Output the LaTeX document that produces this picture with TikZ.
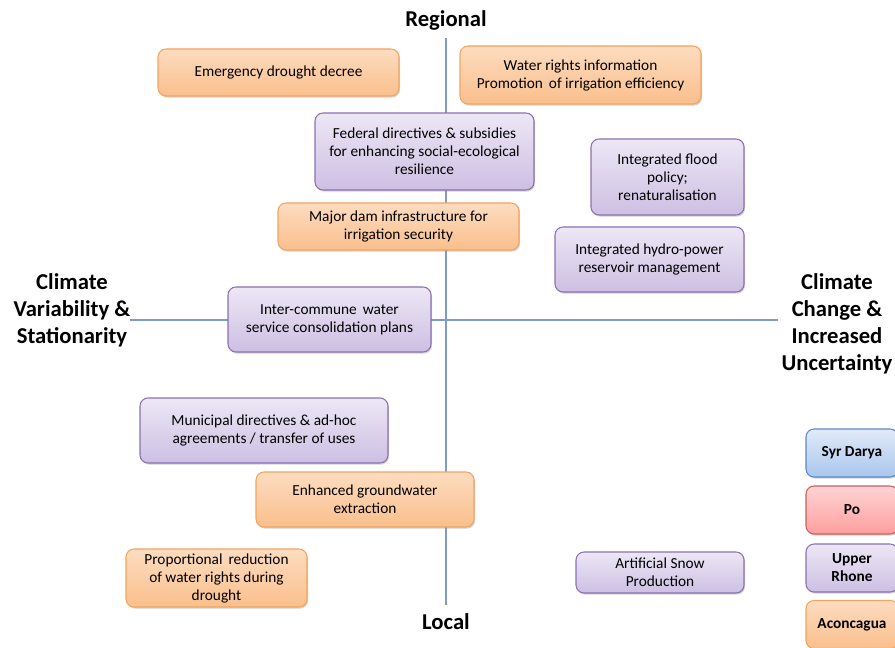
\documentclass[tikz,border=0pt]{standalone}
\usepackage{fontspec}
\setmainfont{Carlito}
\usetikzlibrary{shadows}
\definecolor{axisblue}{HTML}{7F9CC8}
\definecolor{orangetop}{HTML}{FDDCC0}
\definecolor{orangebot}{HTML}{FABF8C}
\definecolor{orangeline}{HTML}{F3A45E}
\definecolor{purpletop}{HTML}{EDE7F5}
\definecolor{purplebot}{HTML}{CDBFE3}
\definecolor{purpleline}{HTML}{8A71B0}
\definecolor{bluetop}{HTML}{E1EBF8}
\definecolor{bluebot}{HTML}{A9C6EE}
\definecolor{blueline}{HTML}{5D88C4}
\definecolor{redtop}{HTML}{FFD4D4}
\definecolor{redbot}{HTML}{FF9E9E}
\definecolor{redline}{HTML}{CF5D5A}
\begin{document}
\begin{tikzpicture}[
    x=0.75pt, y=-0.75pt,
    box/.style={rectangle, rounded corners=6pt, line width=0.8pt, align=center,
        font=\fontsize{11.5}{13.5}\selectfont, inner sep=2pt,
        drop shadow={shadow xshift=0.8pt, shadow yshift=-1.2pt, opacity=0.35}},
    orangebox/.style={box, draw=orangeline, top color=orangetop, bottom color=orangebot},
    purplebox/.style={box, draw=purpleline, top color=purpletop, bottom color=purplebot},
    bluebox/.style={box, draw=blueline, top color=bluetop, bottom color=bluebot},
    redbox/.style={box, draw=redline, top color=redtop, bottom color=redbot},
    legend/.style={minimum width=69pt, minimum height=36pt, font=\fontsize{11.5}{13.5}\selectfont\bfseries},
    axislabel/.style={align=center, font=\fontsize{17}{20.25}\selectfont\bfseries},
    axis/.style={draw=axisblue, line width=0.8pt}
]
\useasboundingbox (0,0) rectangle (895,648);

% axes
\coordinate (top) at (446,38);
\coordinate (bottom) at (446,605);
\coordinate (left) at (130,320);
\coordinate (right) at (778,320);
\draw[axis] (top) -- (bottom);
\draw[axis] (left) -- (right);

% axis labels
\node[axislabel] (regional) at (446,20) {Regional};
\node[axislabel] (local) at (446,622) {Local};
\node[axislabel] (variability) at (72,310) {Climate\\Variability \&\\Stationarity};
\node[axislabel] (change) at (837,323.5) {Climate\\Change \&\\Increased\\Uncertainty};

% measures
\node[orangebox, minimum width=180.75pt, minimum height=35.25pt] (emergency) at (278.5,72.5) {Emergency drought decree};
\node[orangebox, minimum width=180.75pt, minimum height=43.5pt] (waterrights) at (580.5,75) {Water rights information\\Promotion\, of irrigation efficiency};
\node[purplebox, minimum width=164.25pt, minimum height=57.75pt] (federal) at (424.5,151.5) {Federal directives \& subsidies\\for enhancing social-ecological\\resilience};
\node[purplebox, minimum width=114.75pt, minimum height=57pt] (flood) at (667.5,177) {Integrated flood\\policy;\\renaturalisation};
\node[orangebox, minimum width=180.75pt, minimum height=35.25pt] (dam) at (398.5,226.5) {Major dam infrastructure for\\irrigation security};
\node[purplebox, minimum width=141.75pt, minimum height=48.75pt] (hydro) at (649.5,259.5) {Integrated hydro-power\\reservoir management};
\node[purplebox, minimum width=152.25pt, minimum height=48.75pt] (intercommune) at (329.5,319.5) {Inter-commune\, water\\service consolidation plans};
\node[purplebox, minimum width=186pt, minimum height=48.75pt] (municipal) at (264,430.5) {Municipal directives \& ad-hoc\\agreements / transfer of uses};
\node[orangebox, minimum width=163.5pt, minimum height=41.25pt] (groundwater) at (365,499.5) {Enhanced groundwater\\extraction};
\node[orangebox, minimum width=135.75pt, minimum height=43.5pt] (proportional) at (216.5,578) {Proportional\, reduction\\of water rights during\\drought};
\node[purplebox, minimum width=126pt, minimum height=30.75pt] (snow) at (660,572.5) {Artificial Snow\\Production};

% legend
\node[bluebox, legend] (syrdarya) at (852,453) {Syr Darya};
\node[redbox, legend] (po) at (852,510) {Po};
\node[purplebox, legend] (rhone) at (852,568) {Upper\\Rhone};
\node[orangebox, legend] (aconcagua) at (852,624.5) {Aconcagua};
\end{tikzpicture}
\end{document}
